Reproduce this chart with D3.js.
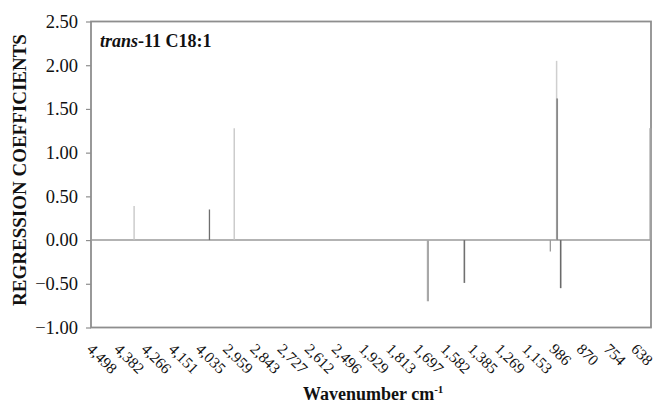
<!DOCTYPE html>
<html><head><meta charset="utf-8">
<script src="https://cdn.jsdelivr.net/npm/d3@7"></script>
<style>
body{margin:0;background:#fff}
svg text{font-family:"Liberation Serif","Times New Roman",serif !important;fill:#111}
</style></head>
<body><svg id="c" width="657" height="405"></svg>
<script>
// Category axis labels (wavenumber, cm-1)
const xTickLabels = ["4,498","4,382","4,266","4,151","4,035","2,959","2,843","2,727","2,612","2,496",
  "1,929","1,813","1,697","1,582","1,385","1,269","1,153","986","870","754","638"];
// Spike positions along the category axis (in units of labelled ticks) and regression coefficients
const spikePositions = [1.51, 4.28, 5.19, 12.31, 13.65, 16.81, 17.04, 17.06, 17.19, 20.50];
const spikeValues    = [0.39, 0.35, 1.28, -0.70, -0.49, -0.13, 2.05, 1.62, -0.55, 1.28];
const spikeShades    = ["#c4c4c4","#6e6e6e","#c4c4c4","#a8a8a8","#707070","#9a9a9a","#cfcfcf","#8a8a8a","#6a6a6a","#a0a0a0"];
const spikeWidths    = [1.3, 1.3, 1.3, 2.2, 1.6, 1.3, 1.5, 1.8, 1.6, 2.6];
const yTickValues = [2.5, 2.0, 1.5, 1.0, 0.5, 0.0, -0.5, -1.0];

const SERIF = '"Liberation Serif", "Times New Roman", serif';
const svg = d3.select("#c");
const L = 91, R = 651, T = 21.5, B = 327.5;
const x = d3.scaleLinear().domain([-0.074, 20.51]).range([L, R]);
const y = d3.scaleLinear().domain([-1, 2.5]).range([B, T]);
const frame = "#8e8e8e";

// y axis
const yAxis = d3.axisLeft(y).tickValues(yTickValues).tickFormat(d3.format(".2f")).tickSize(5).tickPadding(8);
const gy = svg.append("g").attr("transform", `translate(${L},0)`).call(yAxis)
  .attr("font-family", null).attr("font-size", null);
gy.select(".domain").remove();
gy.selectAll(".tick line").attr("stroke", frame).attr("stroke-width", 1.2);
gy.selectAll(".tick text").style("font-size", "18.5px").style("font-family", SERIF).attr("fill", "#111");

// frame
svg.append("rect").attr("x", L).attr("y", T).attr("width", R - L).attr("height", B - T)
  .attr("fill", "none").attr("stroke", frame).attr("stroke-width", 1.8);

// zero line
svg.append("line").attr("x1", L).attr("x2", R).attr("y1", y(0)).attr("y2", y(0))
  .attr("stroke", "#9a9a9a").attr("stroke-width", 1.6);

// spikes
svg.append("g").selectAll("line").data(spikePositions.map((p, i) => ({p, v: spikeValues[i], c: spikeShades[i], w: spikeWidths[i]})))
  .join("line")
  .attr("x1", d => x(d.p)).attr("x2", d => x(d.p))
  .attr("y1", y(0)).attr("y2", d => y(d.v))
  .attr("stroke", d => d.c).attr("stroke-width", d => d.w);

// x tick labels (rotated)
svg.append("g").selectAll("text").data(xTickLabels).join("text")
  .attr("transform", (d, i) => `translate(${x(i) - 7},350) rotate(45)`)
  .attr("text-anchor", "start").style("font-size", "15.5px").style("font-family", SERIF).text(d => d);

// x title
const xt = svg.append("text").attr("x", 303).attr("y", 400).style("font-size", "18px").style("font-family", SERIF).attr("font-weight", "bold");
xt.append("tspan").text("Wavenumber cm");
xt.append("tspan").attr("dy", -7).style("font-size", "11px").text("-1");

// y title
svg.append("text").attr("transform", "translate(26,170) rotate(-90)")
  .attr("text-anchor", "middle").style("font-size", "19px").style("font-family", SERIF).attr("font-weight", "bold")
  .text("REGRESSION COEFFICIENTS");

// annotation
const an = svg.append("text").attr("x", 100).attr("y", 47).style("font-size", "18px").style("font-family", SERIF).attr("font-weight", "bold");
an.append("tspan").attr("font-style", "italic").text("trans");
an.append("tspan").text("-11 C18:1");
</script>
</body></html>
